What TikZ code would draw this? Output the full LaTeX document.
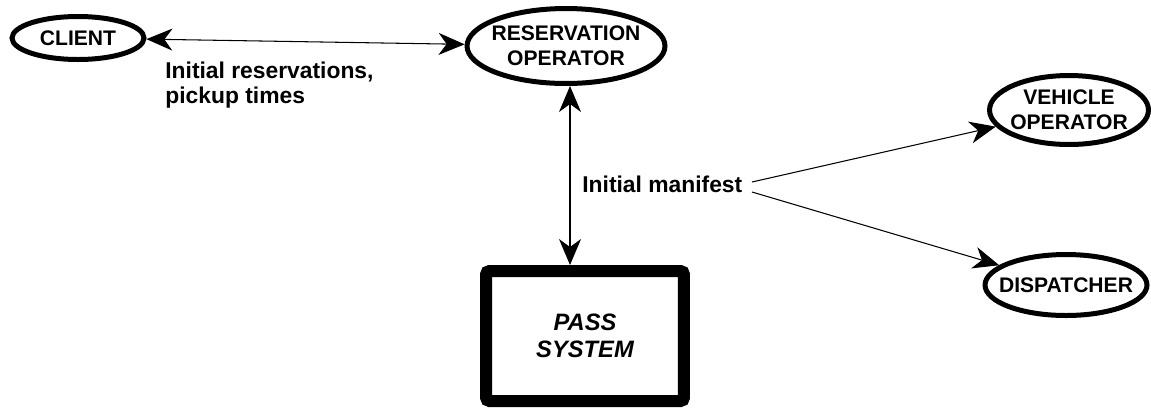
\documentclass[tikz,border=0pt]{standalone}
\usepackage{fontspec}
\setmainfont{Liberation Sans}
\usetikzlibrary{shapes.geometric,arrows.meta}

\tikzset{
  actor/.style={ellipse,draw,line width=0.1cm,inner xsep=-0.5cm,inner ysep=-0.1cm,
    align=center,font=\fontsize{12}{14.2}\selectfont\bfseries},
  flow/.style={line width=0.6pt},
  note/.style={inner sep=0pt,font=\fontsize{13}{14.2}\selectfont\bfseries}
}

\begin{document}
\begin{tikzpicture}[x=0.02cm,y=-0.02cm,>={Stealth[length=0.52cm,width=0.44cm,inset=0.16cm]}]
        \useasboundingbox (0,0) rectangle (1151,407);

        % Draw the people around the system
        \node[actor,minimum width=2.64cm,minimum height=0.86cm] (client) at (78,38) {CLIENT};
        \node[actor,minimum width=3.96cm,minimum height=1.5cm] (resop) at (566,46) {RESERVATION\\OPERATOR};
        \node[actor,minimum width=3.18cm,minimum height=1.38cm] (vehop) at (1069,110) {VEHICLE\\OPERATOR};
        \node[actor,minimum width=3.24cm,minimum height=1.22cm] (disp) at (1066,285) {DISPATCHER};

        % Draw the system box
        \node[draw,line width=0.24cm,rounded corners=2pt,minimum width=3.96cm,minimum height=2.6cm,
          align=center,font=\fontsize{13.5}{15.5}\selectfont\bfseries\itshape] (pass) at (585,336) {PASS\\SYSTEM};

        % Draw the flows between them
        \node[note,anchor=north west,align=left] (resnote) at (165,62) {Initial reservations,\\pickup times};
        \draw[<->,flow] (client) -- (resop);

        \coordinate (trunk) at (570,0);
        \draw[<->,flow] (resop.south -| trunk) -- (pass.north -| trunk);

        \node[note,anchor=west] (mani) at (582,184) {Initial manifest};
        \coordinate (fork1) at (752,182);
        \coordinate (fork2) at (752,192);
        \draw[->,flow] (fork1) -- (vehop);
        \draw[->,flow] (fork2) -- (disp);
    \end{tikzpicture}
\end{document}
